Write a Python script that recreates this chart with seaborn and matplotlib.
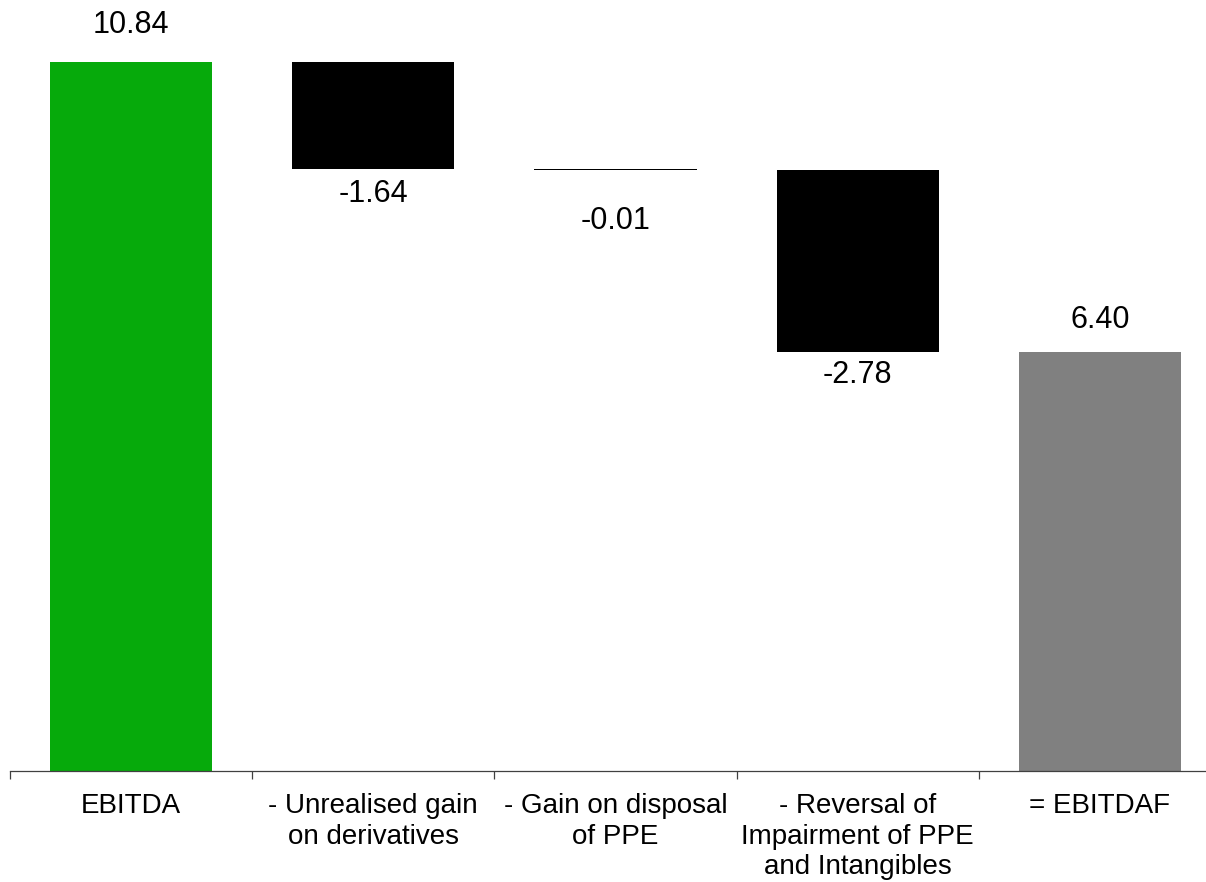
import numpy as np
import pandas as pd
import matplotlib
matplotlib.use("Agg")
import matplotlib.pyplot as plt
import seaborn as sns

categories = ["EBITDA", "- Unrealised gain\non derivatives", "- Gain on disposal\nof PPE",
              "- Reversal of\nImpairment of PPE\nand Intangibles", "= EBITDAF"]
changes = [10.84, -1.64, -0.01, -2.78, 6.40]
kinds = ["total", "delta", "delta", "delta", "total"]
colors = ["#06aa0b", "#000000", "#000000", "#000000", "#808080"]

# waterfall bottoms/tops
bottoms, heights = [], []
running = 0.0
for v, k in zip(changes, kinds):
    if k == "total":
        bottoms.append(0.0)
        heights.append(v)
        running = v
    else:
        bottoms.append(running + v)
        heights.append(-v)
        running = running + v
heights = [max(h, 0.012) for h in heights]

df = pd.DataFrame({"cat": categories, "height": heights, "bottom": bottoms, "value": changes})

sns.set_style("white")
plt.rcParams["font.family"] = ["Liberation Sans", "DejaVu Sans"]

fig = plt.figure(figsize=(12.06, 8.82), dpi=100)
ax = fig.add_axes([10 / 1206, 111 / 882, 1211 / 1206, 771 / 882])

sns.barplot(data=df, x="cat", y="height", bottom=df["bottom"].values, width=0.67,
            saturation=1, ax=ax, linewidth=0, color="black")
for patch, c in zip(ax.patches, colors):
    patch.set_facecolor(c)

ax.set_xlim(-0.5, 4.5)
ax.set_ylim(0, 11.79)

# value labels
offsets = [37, -25, -51, -23, 32]
for i, (v, b, h) in enumerate(zip(changes, bottoms, heights)):
    y = b + h if v > 0 else b
    ax.annotate(f"{v:.2f}", (i, y), xytext=(0, offsets[i] * 0.72), textcoords="offset points",
                ha="center", va="center", fontsize=22, color="#000000", annotation_clip=False)

for s in ["left", "right", "top"]:
    ax.spines[s].set_visible(False)
ax.spines["bottom"].set_color("#404040")
ax.spines["bottom"].set_linewidth(0.9)
ax.set_yticks([])
ax.set_xticks(np.arange(-0.5, 4.0, 1.0))
ax.set_xticklabels([])
ax.set_xticks(np.arange(5), minor=True)
ax.set_xticklabels(categories, minor=True, fontsize=20, color="black", linespacing=1.22)
ax.tick_params(axis="x", which="major", direction="out", length=6, width=0.9, color="#404040", bottom=True)
ax.tick_params(axis="x", which="minor", length=0, pad=16, bottom=True)
ax.set_xlabel("")
ax.set_ylabel("")

fig.savefig("out.png", dpi=100)
